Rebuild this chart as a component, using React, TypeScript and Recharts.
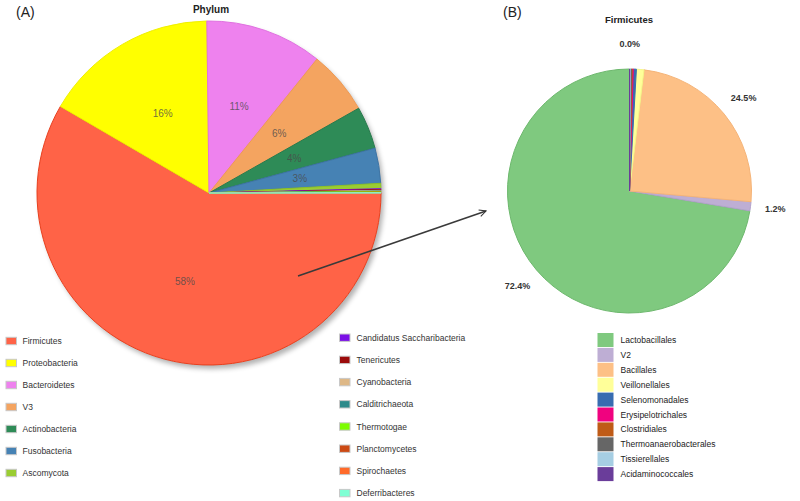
import React from 'react';
import { PieChart, Pie, Cell } from 'recharts';

// ---- Panel A: Phylum ----
const phylumNames = [
  'Firmicutes', 'Proteobacteria', 'Bacteroidetes', 'V3', 'Actinobacteria', 'Fusobacteria', 'Ascomycota',
  'Candidatus Saccharibacteria', 'Tenericutes', 'Cyanobacteria', 'Calditrichaeota', 'Thermotogae',
  'Planctomycetes', 'Spirochaetes', 'Deferribacteres',
];
const phylumValues = [58.4, 16.4, 11.0, 6.0, 4.0, 3.3, 0.5, 0.08, 0.07, 0.06, 0.05, 0.05, 0.04, 0.03, 0.02];
const phylumColors = [
  '#FF6347', '#FFFF00', '#EE82EE', '#F4A460', '#2E8B57', '#4682B4', '#9ACD32',
  '#7B10E6', '#9B0A0A', '#DEB887', '#2E8B8B', '#7CFC00', '#CC4A14', '#FF6A2A', '#7FFFD4',
];
const phylumStrokes = [
  '#E8401E', '#F0F000', '#E070E0', '#EE9A55', '#277A4C', '#3E74A4', '#8CC028',
  '#7B10E6', '#9B0A0A', '#DEB887', '#2E8B8B', '#7CFC00', '#CC4A14', '#FF6A2A', '#7FFFD4',
];

// ---- Panel B: Firmicutes orders ----
const orderNames = [
  'Lactobacillales', 'V2', 'Bacillales', 'Veillonellales', 'Selenomonadales', 'Erysipelotrichales',
  'Clostridiales', 'Thermoanaerobacterales', 'Tissierellales', 'Acidaminococcales',
];
const orderValues = [72.4, 1.2, 24.5, 1.0, 0.4, 0.15, 0.12, 0.1, 0.09, 0.04];
const orderColors = [
  '#7FC97F', '#BEAED4', '#FDC086', '#FFFF99', '#386CB0', '#F0027F', '#BF5B17', '#666666', '#A6CEE3', '#6A3D9A',
];
const orderStrokes = [
  '#6DB86D', '#B3A2CC', '#F5B478', '#F5F58A', '#386CB0', '#F0027F', '#BF5B17', '#666666', '#A6CEE3', '#6A3D9A',
];
const orderLabeled = ['Lactobacillales', 'V2', 'Bacillales', 'Acidaminococcales'];

const phylumData = phylumNames.map((name, i) => ({ name, value: phylumValues[i] }));
const orderData = orderNames.map((name, i) => ({ name, value: orderValues[i] }));

const FONT = '"Liberation Sans", Arial, sans-serif';
const RAD = Math.PI / 180;

const renderLabelA = (props: any) => {
  const { cx, cy, midAngle, outerRadius, percent } = props;
  if (percent < 0.02) return null;
  const r = outerRadius * 0.535;
  const x = cx + r * Math.cos(-midAngle * RAD);
  const y = cy + r * Math.sin(-midAngle * RAD);
  return (
    <text x={x} y={y} textAnchor="middle" dominantBaseline="central" fontSize={10}
      fill="#4a4a4a" fillOpacity={0.8} fontFamily={FONT}>
      {Math.round(percent * 100)}%
    </text>
  );
};

const renderLabelB = (props: any) => {
  const { cx, cy, midAngle, outerRadius, percent } = props;
  const name = props.name ?? props.payload?.name;
  if (!orderLabeled.includes(name)) return null;
  const r = outerRadius + 25;
  const x = cx + r * Math.cos(-midAngle * RAD);
  const y = cy + r * Math.sin(-midAngle * RAD);
  return (
    <text x={x} y={y} textAnchor="middle" dominantBaseline="central" fontSize={9}
      fontWeight="bold" fill="#333" fontFamily={FONT}>
      {(percent * 100).toFixed(1)}%
    </text>
  );
};

export default function App() {
  return (
    <div style={{ position: 'absolute', left: 0, top: 0, width: 800, height: 501, background: '#fff', fontFamily: FONT }}>
      {/* soft shadow under pie A */}
      <div style={{
        position: 'absolute', left: 37, top: 21, width: 344, height: 344, borderRadius: '50%',
        boxShadow: '3px 4px 5px rgba(0,0,0,0.3)',
      }} />
      <div style={{ position: 'absolute', left: 0, top: 0 }}>
        <PieChart width={800} height={501} margin={{ top: 0, right: 0, bottom: 0, left: 0 }}>
          <Pie data={phylumData} dataKey="value" nameKey="name" cx={209} cy={193} outerRadius={172}
            startAngle={0} endAngle={-360} label={renderLabelA} labelLine={false}
            isAnimationActive={false}>
            {phylumData.map((d, i) => (
              <Cell key={d.name} fill={phylumColors[i]} stroke={phylumStrokes[i]} strokeWidth={1} />
            ))}
          </Pie>
          <Pie data={orderData} dataKey="value" nameKey="name" cx={629.5} cy={191} outerRadius={122}
            startAngle={90} endAngle={450} label={renderLabelB} labelLine={false}
            isAnimationActive={false}>
            {orderData.map((d, i) => (
              <Cell key={d.name} fill={orderColors[i]} stroke={orderStrokes[i]} strokeWidth={1} />
            ))}
          </Pie>
        </PieChart>
      </div>
      <svg width={800} height={501} style={{ position: 'absolute', left: 0, top: 0, pointerEvents: 'none' }}>
        <defs>
          <marker id="arrowHead" viewBox="0 0 12 12" refX="11" refY="6" markerWidth="8" markerHeight="8"
            orient="auto" markerUnits="userSpaceOnUse">
            <path d="M1,1 L11,6 L1,11" fill="none" stroke="#333" strokeWidth={1.6} />
          </marker>
        </defs>
        <text x={16} y={17} fontSize={14} fill="#222" fontFamily={FONT}>(A)</text>
        <text x={503} y={17} fontSize={14} fill="#222" fontFamily={FONT}>(B)</text>
        <text x={211} y={13} fontSize={10} fontWeight="bold" fill="#222" textAnchor="middle" fontFamily={FONT}>Phylum</text>
        <text x={629} y={23} fontSize={9.5} fontWeight="bold" fill="#222" textAnchor="middle" fontFamily={FONT}>Firmicutes</text>
        <line x1={298} y1={276} x2={486} y2={211} stroke="#3a3a3a" strokeWidth={1.6} markerEnd="url(#arrowHead)" />

        {/* Legend A */}
        {phylumNames.map((name, i) => {
          const col = i < 7 ? 0 : 1;
          const row = col === 0 ? i : i - 7;
          const cy = col === 0 ? 341 + 22 * row : 337.7 + 22.2 * row;
          const sx = col === 0 ? 6 : 339.5;
          const tx = col === 0 ? 22.5 : 356.5;
          return (
            <g key={name}>
              <rect x={sx} y={cy - 3.7} width={10.5} height={7.4} fill={phylumColors[i]} stroke="#c8c8c8" strokeWidth={1} />
              <text x={tx} y={cy} dominantBaseline="central" fontSize={8.5} fill="#333" fontFamily={FONT}>{name}</text>
            </g>
          );
        })}

        {/* Legend B */}
        {orderNames.map((name, i) => {
          const cy = 340 + 14.9 * i;
          return (
            <g key={name}>
              <rect x={597.5} y={cy - 7} width={16} height={14} fill={orderColors[i]} />
              <text x={620.5} y={cy} dominantBaseline="central" fontSize={8.5} fill="#222" fontFamily={FONT}>{name}</text>
            </g>
          );
        })}
      </svg>
    </div>
  );
}
